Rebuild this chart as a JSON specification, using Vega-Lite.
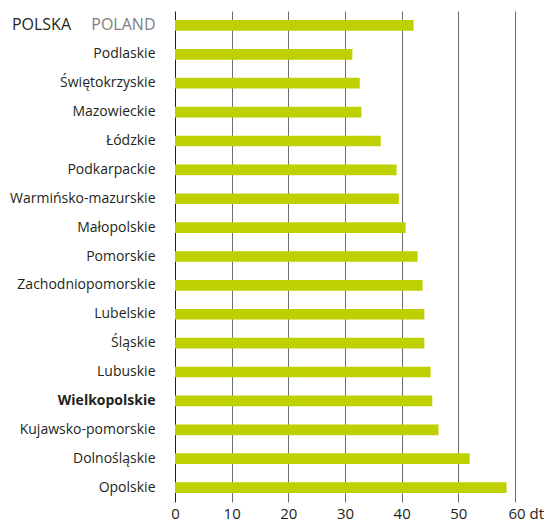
{
  "$schema": "https://vega.github.io/schema/vega-lite/v6.json",
  "autosize": {"type": "none"},
  "width": 340,
  "height": 491,
  "padding": {"left": 175, "top": 11, "right": 33, "bottom": 22},
  "background": "white",
  "config": {
    "view": {"stroke": null},
    "font": "Open Sans"
  },
  "data": {
    "values": [
      {"region": "POLSKA", "value": 42.1},
      {"region": "Podlaskie", "value": 31.3},
      {"region": "Świętokrzyskie", "value": 32.6},
      {"region": "Mazowieckie", "value": 32.9},
      {"region": "Łódzkie", "value": 36.3},
      {"region": "Podkarpackie", "value": 39.1},
      {"region": "Warmińsko-mazurskie", "value": 39.5},
      {"region": "Małopolskie", "value": 40.7},
      {"region": "Pomorskie", "value": 42.8},
      {"region": "Zachodniopomorskie", "value": 43.7},
      {"region": "Lubelskie", "value": 44.0},
      {"region": "Śląskie", "value": 44.0},
      {"region": "Lubuskie", "value": 45.1},
      {"region": "Wielkopolskie", "value": 45.4},
      {"region": "Kujawsko-pomorskie", "value": 46.5},
      {"region": "Dolnośląskie", "value": 52.0},
      {"region": "Opolskie", "value": 58.5}
    ]
  },
  "encoding": {
    "y": {
      "field": "region",
      "type": "nominal",
      "sort": null,
      "scale": {"paddingInner": 0.63, "paddingOuter": 0.315},
      "axis": {
        "title": null,
        "domain": false,
        "ticks": false,
        "labelPadding": 20,
        "labelFont": "Open Sans",
        "labelFontSize": {"condition": {"test": "datum.value === 'POLSKA'", "value": 16}, "value": 14},
        "labelColor": {"condition": {"test": "datum.value === 'POLSKA'", "value": "#808080"}, "value": "#231f20"},
        "labelFontWeight": {"condition": {"test": "datum.value === 'Wielkopolskie'", "value": "bold"}, "value": "normal"},
        "labelExpr": "datum.value === 'POLSKA' ? 'POLAND' : datum.value"
      }
    }
  },
  "layer": [
    {
      "mark": {"type": "bar", "color": "#bed000"},
      "encoding": {
        "x": {
          "field": "value",
          "type": "quantitative",
          "scale": {"domain": [0, 60], "nice": false},
          "axis": {
            "title": null,
            "values": [0, 10, 20, 30, 40, 50, 60],
            "domain": false,
            "ticks": false,
            "grid": true,
            "gridColor": {"condition": {"test": "datum.value === 0", "value": "#231f20"}, "value": "#6d6e71"},
            "gridWidth": 1,
            "gridOpacity": 1,
            "labelPadding": 4,
            "labelFont": "Open Sans",
            "labelFontSize": 15,
            "labelColor": "#231f20",
            "labelExpr": "datum.value === 60 ? '60 dt' : datum.label",
            "labelAlign": {"condition": {"test": "datum.value === 60", "value": "left"}, "value": "center"},
            "labelOffset": {"condition": {"test": "datum.value === 60", "value": -7}, "value": 0}
          }
        }
      }
    },
    {
      "transform": [{"filter": "datum.region === 'POLSKA'"}],
      "mark": {"type": "text", "align": "right", "baseline": "middle", "dx": -104, "fontSize": 16, "font": "Open Sans", "color": "#231f20"},
      "encoding": {
        "x": {"datum": 0, "type": "quantitative"},
        "text": {"field": "region"}
      }
    }
  ]
}
